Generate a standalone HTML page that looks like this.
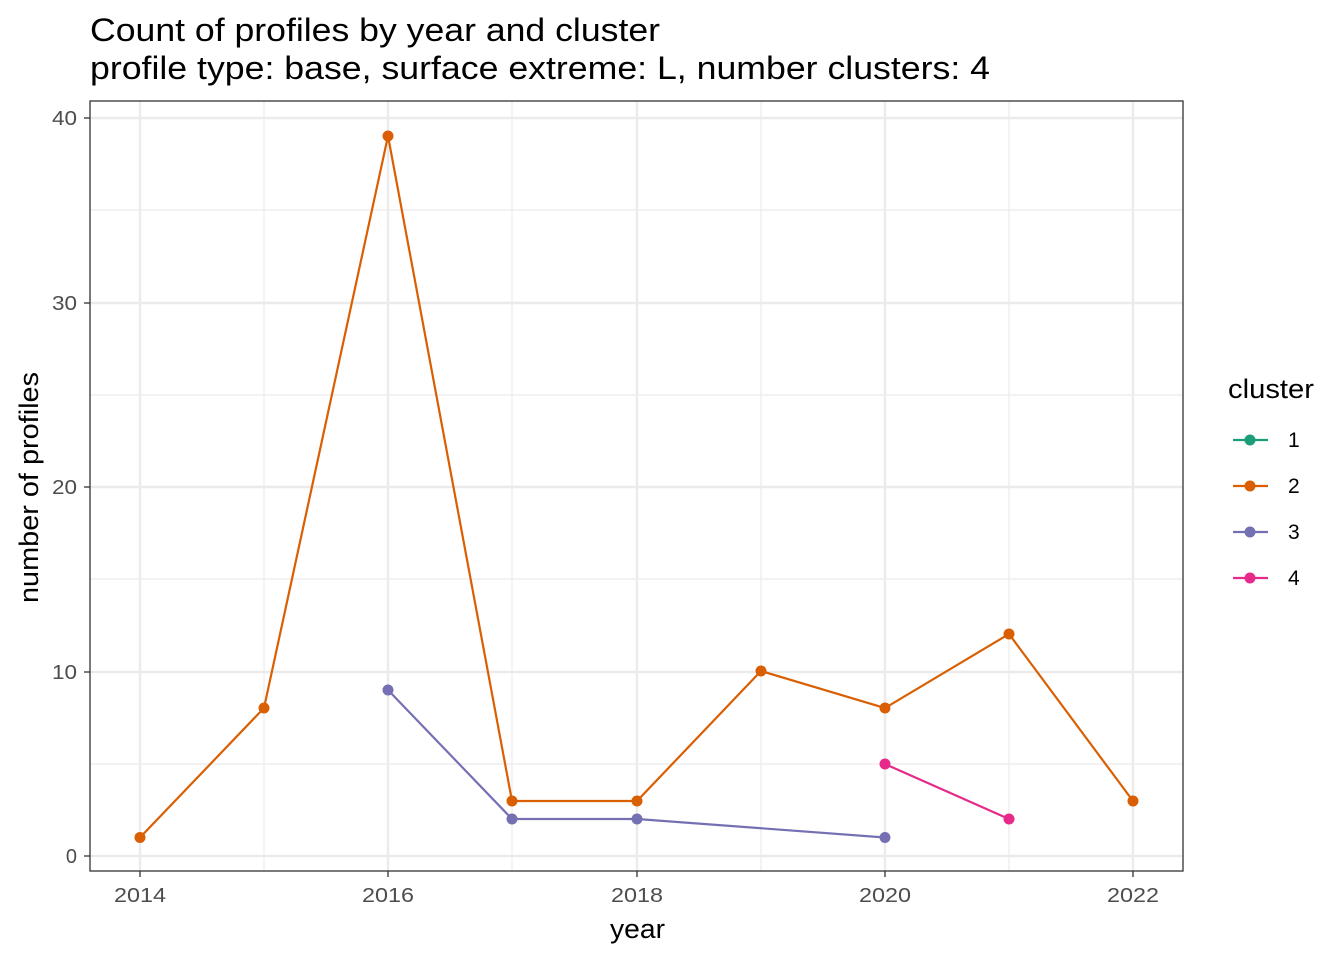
<!DOCTYPE html>
<html><head><meta charset="utf-8"><style>body{margin:0;background:#fff}svg{display:block}text{font-family:"Liberation Sans",sans-serif}</style></head><body>
<svg width="1344" height="960" xmlns="http://www.w3.org/2000/svg">
<rect width="1344" height="960" fill="#fff"/>
<text x="90" y="41" font-size="32" textLength="570" lengthAdjust="spacingAndGlyphs">Count of profiles by year and cluster</text>
<text x="90" y="79" font-size="32" textLength="900" lengthAdjust="spacingAndGlyphs">profile type: base, surface extreme: L, number clusters: 4</text>
<g stroke="#ebebeb" stroke-width="1.2">
<line x1="90" x2="1183" y1="764" y2="764"/><line x1="90" x2="1183" y1="579" y2="579"/><line x1="90" x2="1183" y1="395" y2="395"/><line x1="90" x2="1183" y1="210" y2="210"/>
<line y1="101" y2="871" x1="264" x2="264"/><line y1="101" y2="871" x1="512" x2="512"/><line y1="101" y2="871" x1="761" x2="761"/><line y1="101" y2="871" x1="1009" x2="1009"/>
</g>
<g stroke="#ebebeb" stroke-width="2.4">
<line x1="90" x2="1183" y1="856" y2="856"/><line x1="90" x2="1183" y1="672" y2="672"/><line x1="90" x2="1183" y1="487" y2="487"/><line x1="90" x2="1183" y1="303" y2="303"/><line x1="90" x2="1183" y1="118" y2="118"/>
<line y1="101" y2="871" x1="140" x2="140"/><line y1="101" y2="871" x1="388" x2="388"/><line y1="101" y2="871" x1="637" x2="637"/><line y1="101" y2="871" x1="885" x2="885"/><line y1="101" y2="871" x1="1133" x2="1133"/>
</g>
<polyline fill="none" stroke="#d95f02" stroke-width="2.2" points="140,837.5 264,708 388,136 512,801 637,801 761,671 885,708 1009,634 1133,801"/>
<polyline fill="none" stroke="#7570b3" stroke-width="2.2" points="388,690 512,819 637,819 885,837.5"/>
<polyline fill="none" stroke="#e7298a" stroke-width="2.2" points="885,764 1009,819"/>
<g fill="#d95f02"><circle cx="140" cy="837.5" r="5.5"/><circle cx="264" cy="708" r="5.5"/><circle cx="388" cy="136" r="5.5"/><circle cx="512" cy="801" r="5.5"/><circle cx="637" cy="801" r="5.5"/><circle cx="761" cy="671" r="5.5"/><circle cx="885" cy="708" r="5.5"/><circle cx="1009" cy="634" r="5.5"/><circle cx="1133" cy="801" r="5.5"/></g>
<g fill="#7570b3"><circle cx="388" cy="690" r="5.5"/><circle cx="512" cy="819" r="5.5"/><circle cx="637" cy="819" r="5.5"/><circle cx="885" cy="837.5" r="5.5"/></g>
<g fill="#e7298a"><circle cx="885" cy="764" r="5.5"/><circle cx="1009" cy="819" r="5.5"/></g>
<rect x="90" y="101" width="1093" height="770" fill="none" stroke="#333" stroke-width="1.3"/>
<g stroke="#333" stroke-width="1.3">
<line x1="84" x2="90" y1="856" y2="856"/><line x1="84" x2="90" y1="672" y2="672"/><line x1="84" x2="90" y1="487" y2="487"/><line x1="84" x2="90" y1="303" y2="303"/><line x1="84" x2="90" y1="118" y2="118"/>
<line y1="871" y2="877" x1="140" x2="140"/><line y1="871" y2="877" x1="388" x2="388"/><line y1="871" y2="877" x1="637" x2="637"/><line y1="871" y2="877" x1="885" x2="885"/><line y1="871" y2="877" x1="1133" x2="1133"/>
</g>
<g font-size="20" fill="#4d4d4d" text-anchor="end">
<text x="77" y="863">0</text><text x="77" y="679" textLength="25" lengthAdjust="spacingAndGlyphs">10</text><text x="77" y="494" textLength="25" lengthAdjust="spacingAndGlyphs">20</text><text x="77" y="310" textLength="25" lengthAdjust="spacingAndGlyphs">30</text><text x="77" y="125" textLength="25" lengthAdjust="spacingAndGlyphs">40</text>
</g>
<g font-size="20" fill="#4d4d4d">
<text x="114" y="902" textLength="52" lengthAdjust="spacingAndGlyphs">2014</text><text x="362" y="902" textLength="52" lengthAdjust="spacingAndGlyphs">2016</text><text x="611" y="902" textLength="52" lengthAdjust="spacingAndGlyphs">2018</text><text x="859" y="902" textLength="52" lengthAdjust="spacingAndGlyphs">2020</text><text x="1107" y="902" textLength="52" lengthAdjust="spacingAndGlyphs">2022</text>
</g>
<text x="610" y="938" font-size="27" textLength="55" lengthAdjust="spacingAndGlyphs">year</text>
<text transform="translate(38,603) rotate(-90)" font-size="27" textLength="231" lengthAdjust="spacingAndGlyphs">number of profiles</text>
<text x="1228" y="398" font-size="27" textLength="86" lengthAdjust="spacingAndGlyphs">cluster</text>
<g stroke-width="2.2">
<line x1="1233" x2="1268" y1="440" y2="440" stroke="#1b9e77"/><circle cx="1250" cy="440" r="5.5" fill="#1b9e77"/>
<line x1="1233" x2="1268" y1="486" y2="486" stroke="#d95f02"/><circle cx="1250" cy="486" r="5.5" fill="#d95f02"/>
<line x1="1233" x2="1268" y1="532" y2="532" stroke="#7570b3"/><circle cx="1250" cy="532" r="5.5" fill="#7570b3"/>
<line x1="1233" x2="1268" y1="578" y2="578" stroke="#e7298a"/><circle cx="1250" cy="578" r="5.5" fill="#e7298a"/>
</g>
<g font-size="21"><text x="1288" y="447">1</text><text x="1288" y="493">2</text><text x="1288" y="539">3</text><text x="1288" y="585">4</text></g>
</svg>
</body></html>
